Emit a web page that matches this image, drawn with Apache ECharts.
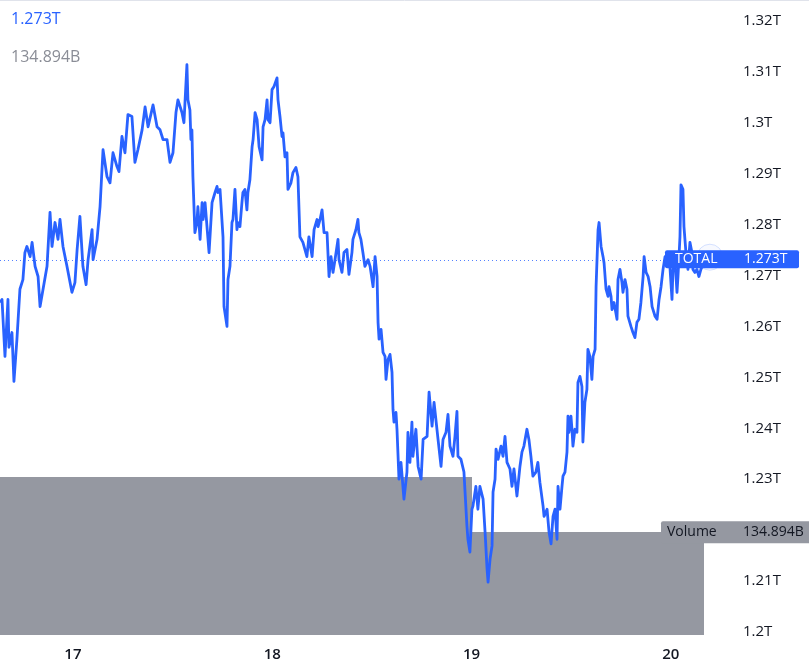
<!DOCTYPE html>
<html><head><meta charset="utf-8">
<script src="https://cdn.jsdelivr.net/npm/echarts@6/dist/echarts.min.js"></script>
<style>html,body{margin:0;padding:0;background:#fff}#c{width:809px;height:662px}</style>
</head><body><div id="c"></div>
<script>
// ---- data ----
const dayLabels = [17, 18, 19, 20];
const priceTicks = [1200, 1210, 1220, 1230, 1240, 1250, 1260, 1270, 1280, 1290, 1300, 1310, 1320]; // billions
const times = [
16.634,16.644,16.659,16.674,16.679,16.694,16.704,16.719,16.734,16.749,
16.759,16.769,16.785,16.795,16.810,16.825,16.835,16.850,16.870,16.885,
16.895,16.910,16.925,16.935,16.950,16.970,16.995,17.010,17.021,17.035,
17.050,17.066,17.076,17.096,17.101,17.121,17.136,17.151,17.171,17.186,
17.201,17.221,17.231,17.246,17.261,17.276,17.296,17.311,17.326,17.347,
17.362,17.377,17.402,17.422,17.437,17.452,17.472,17.487,17.502,17.517,
17.527,17.547,17.557,17.572,17.577,17.587,17.592,17.597,17.602,17.612,
17.622,17.627,17.638,17.648,17.653,17.663,17.673,17.683,17.698,17.713,
17.723,17.728,17.738,17.748,17.753,17.758,17.773,17.778,17.788,17.798,
17.803,17.813,17.823,17.828,17.838,17.848,17.853,17.863,17.873,17.878,
17.888,17.899,17.904,17.914,17.924,17.934,17.949,17.954,17.964,17.974,
17.979,17.989,17.999,18.009,18.024,18.029,18.039,18.049,18.054,18.064,
18.074,18.079,18.094,18.104,18.119,18.129,18.139,18.154,18.174,18.184,
18.200,18.210,18.225,18.230,18.240,18.250,18.260,18.275,18.285,18.295,
18.305,18.315,18.330,18.335,18.350,18.360,18.375,18.385,18.400,18.405,
18.420,18.430,18.435,18.445,18.455,18.465,18.481,18.491,18.506,18.516,
18.526,18.531,18.536,18.546,18.556,18.566,18.571,18.581,18.591,18.601,
18.606,18.611,18.621,18.626,18.636,18.646,18.651,18.661,18.676,18.681,
18.691,18.701,18.706,18.721,18.732,18.747,18.757,18.777,18.787,18.802,
18.812,18.822,18.832,18.847,18.857,18.872,18.882,18.892,18.907,18.917,
18.927,18.932,18.947,18.957,18.962,18.977,18.982,18.992,19.002,19.007,
19.022,19.032,19.042,19.058,19.068,19.078,19.083,19.093,19.103,19.108,
19.118,19.123,19.133,19.148,19.158,19.168,19.178,19.193,19.203,19.213,
19.228,19.243,19.253,19.263,19.278,19.288,19.298,19.308,19.323,19.333,
19.343,19.359,19.364,19.379,19.389,19.399,19.409,19.419,19.429,19.434,
19.444,19.454,19.459,19.469,19.479,19.484,19.489,19.499,19.504,19.509,
19.519,19.529,19.534,19.544,19.554,19.559,19.569,19.579,19.584,19.594,
19.604,19.610,19.620,19.625,19.635,19.640,19.650,19.660,19.665,19.675,
19.685,19.690,19.700,19.705,19.715,19.730,19.735,19.745,19.755,19.760,
19.770,19.780,19.785,19.800,19.810,19.820,19.830,19.840,19.850,19.861,
19.866,19.876,19.886,19.896,19.906,19.921,19.931,19.941,19.951,19.961,
19.971,19.981,19.991,20.006,20.011,20.021,20.031,20.036,20.046,20.051,
20.061,20.066,20.076,20.086,20.096,20.106,20.111,20.121,20.131,20.141,
20.151,20.171];
const totalB = [
1264.7,1265.3,1254.1,1265.3,1255.9,1258.8,1249.2,1257.5,1267.3,1269.2,
1274.5,1275.7,1273.7,1276.5,1271.8,1269.8,1263.9,1267.3,1271.8,1282.4,
1275.7,1280.4,1277.1,1281.0,1275.7,1271.8,1266.7,1268.6,1275.1,1281.6,
1271.8,1268.2,1273.1,1279.0,1273.1,1277.1,1283.5,1294.7,1289.4,1288.2,
1294.1,1291.4,1290.4,1297.3,1294.1,1301.6,1301.2,1292.2,1294.7,1298.6,
1303.1,1299.2,1303.5,1299.2,1298.6,1296.7,1296.7,1292.2,1294.1,1302.0,
1304.5,1302.0,1300.0,1311.4,1304.5,1302.5,1296.7,1298.6,1289.4,1278.4,
1280.4,1283.5,1277.1,1284.3,1281.0,1284.3,1284.3,1274.5,1284.3,1286.3,
1287.5,1286.3,1286.9,1286.9,1277.6,1263.9,1260.0,1269.2,1271.8,1280.4,
1281.0,1286.9,1279.0,1280.4,1279.6,1284.3,1286.3,1286.9,1282.9,1286.3,
1288.8,1295.3,1296.7,1302.0,1300.6,1295.3,1292.7,1299.2,1300.6,1304.5,
1300.6,1300.0,1306.5,1307.1,1308.8,1304.5,1301.2,1297.3,1298.0,1293.3,
1294.1,1286.9,1288.2,1290.2,1291.2,1289.4,1277.6,1276.5,1273.7,1277.6,
1273.7,1279.0,1281.0,1279.6,1281.0,1282.9,1278.4,1278.4,1269.8,1273.7,
1270.6,1273.1,1277.1,1273.1,1270.6,1274.5,1275.1,1270.2,1274.5,1277.1,
1279.0,1281.0,1278.4,1277.1,1274.5,1271.8,1273.1,1271.8,1267.8,1273.7,
1269.8,1260.8,1257.5,1259.4,1254.9,1254.1,1249.6,1253.5,1254.5,1251.0,
1243.7,1241.2,1243.1,1239.8,1230.0,1233.3,1233.3,1226.1,1231.4,1239.2,
1233.3,1241.2,1234.5,1239.8,1232.5,1230.0,1237.8,1238.4,1247.1,1240.4,
1245.1,1245.1,1237.8,1232.5,1237.8,1239.2,1242.7,1236.5,1234.5,1238.4,
1243.3,1234.5,1233.9,1233.9,1231.4,1220.8,1218.2,1215.7,1224.1,1224.7,
1228.6,1224.1,1228.6,1226.1,1219.6,1212.4,1209.8,1214.3,1216.9,1227.5,
1230.0,1235.9,1233.9,1236.5,1234.5,1238.4,1233.3,1232.0,1228.6,1232.0,
1226.7,1232.5,1235.3,1236.5,1239.8,1237.8,1234.5,1230.6,1231.4,1233.3,
1229.4,1224.7,1222.7,1224.1,1219.6,1217.3,1222.7,1224.1,1218.2,1228.6,
1224.1,1228.6,1230.6,1231.4,1235.3,1242.4,1239.2,1242.4,1239.8,1236.5,
1239.8,1239.2,1249.0,1250.2,1248.2,1237.3,1245.1,1247.6,1255.5,1254.1,
1249.6,1254.1,1255.5,1267.8,1279.0,1280.4,1275.7,1273.7,1272.5,1267.3,
1265.9,1267.8,1265.9,1263.3,1264.7,1261.4,1269.2,1271.2,1268.6,1266.7,
1269.2,1267.3,1262.0,1260.0,1258.8,1257.8,1260.8,1261.4,1264.7,1269.8,
1273.7,1270.6,1269.8,1267.8,1263.9,1262.0,1261.4,1265.3,1267.8,1271.2,
1273.7,1272.5,1274.5,1265.3,1271.2,1273.1,1266.7,1269.8,1277.6,1287.8,
1286.9,1279.6,1274.5,1271.2,1276.5,1274.5,1271.2,1270.6,1271.2,1269.8,
1271.2,1273.0];
const volStart = [16.0, 19.0];
const volEnd = [19.0, 20.166];
const volumeB = [207.0, 134.894];
const lastTotalLabel = '1.273T';
const lastVolumeLabel = '134.894B';
const seriesName = 'TOTAL';

// ---- chart ----
const FONT = '"Open Sans", sans-serif';
const BLUE = '#2962FF';
const GREY = '#9598a1';
const chart = echarts.init(document.getElementById('c'), null, {renderer: 'canvas'});
const fmtT = v => parseFloat((v / 1000).toFixed(3)) + 'T';

chart.setOption({
  animation: false,
  backgroundColor: '#ffffff',
  grid: {left: 0, right: 79, top: 0, bottom: 26, containLabel: false},
  xAxis: {
    type: 'value', min: 16.634, max: 20.297,
    axisLine: {show: false}, axisTick: {show: false}, splitLine: {show: false},
    axisLabel: {customValues: dayLabels, formatter: v => String(Math.round(v)),
      color: '#131722', fontFamily: FONT, fontSize: 15, fontWeight: 600, margin: 12}
  },
  yAxis: [{
    type: 'value', position: 'right', min: 1199.4, max: 1324.1,
    axisLine: {show: false}, axisTick: {show: false}, splitLine: {show: false},
    axisLabel: {customValues: priceTicks, formatter: fmtT, color: '#131722',
      fontFamily: FONT, fontSize: 15, margin: 13}
  }, {
    type: 'value', min: 0, max: 833, show: false
  }],
  series: [{
    type: 'custom', name: 'Volume', xAxisIndex: 0, yAxisIndex: 1, clip: true, z: 1,
    data: volStart.map((s, i) => [s, volEnd[i], volumeB[i]]),
    encode: {x: [0, 1], y: 2},
    renderItem: (params, api) => {
      const a = api.coord([api.value(0), api.value(2)]);
      const b = api.coord([api.value(1), 0]);
      const x0 = Math.round(a[0]), x1 = Math.round(b[0]);
      return {type: 'rect', shape: {x: x0, y: Math.round(a[1]), width: x1 - x0, height: Math.round(b[1]) - Math.round(a[1])},
        style: {fill: GREY}};
    }
  }, {
    type: 'line', name: seriesName, xAxisIndex: 0, yAxisIndex: 0, z: 3,
    data: times.map((t, i) => [t, totalB[i]]),
    showSymbol: false, symbol: 'none',
    lineStyle: {color: BLUE, width: 2.8, join: 'round'},
    markLine: {
      silent: true, symbol: 'none', animation: false,
      lineStyle: {color: BLUE, width: 1, type: [1, 3], opacity: 0.8},
      label: {show: false},
      data: [{yAxis: totalB[totalB.length - 1]}]
    }
  }]
});

const lastPt = chart.convertToPixel({xAxisIndex: 0, yAxisIndex: 0}, [times[times.length - 1], totalB[totalB.length - 1]]);
const volY = chart.convertToPixel({yAxisIndex: 1}, volumeB[volumeB.length - 1]);
const W = 809;
chart.setOption({
  graphic: [
    {type: 'line', shape: {x1: 0, y1: 0.5, x2: W, y2: 0.5}, style: {stroke: '#e0e3eb', lineWidth: 1}, z: 10},
    {type: 'text', left: 11, top: 11, z: 10, style: {text: lastTotalLabel, fill: BLUE, font: '16px ' + FONT}},
    {type: 'text', left: 11, top: 49, z: 10, style: {text: lastVolumeLabel, fill: '#8a8d96', font: '16px ' + FONT}},
    {type: 'circle', shape: {cx: lastPt[0] + 5, cy: lastPt[1] - 3, r: 13}, style: {fill: 'rgba(41,98,255,0.04)', stroke: 'rgba(41,98,255,0.18)', lineWidth: 1}, z: 11},
    {type: 'rect', shape: {x: 665, y: lastPt[1] - 10, width: 134, height: 18, r: 2}, style: {fill: BLUE}, z: 12},
    {type: 'text', x: 675, y: lastPt[1] - 1, z: 13, style: {text: seriesName, fill: '#ffffff', font: '14px ' + FONT, verticalAlign: 'middle'}},
    {type: 'text', x: 744, y: lastPt[1] - 1, z: 13, style: {text: lastTotalLabel, fill: '#ffffff', font: '14px ' + FONT, verticalAlign: 'middle'}},
    {type: 'rect', shape: {x: 661, y: volY - 11, width: 150, height: 22, r: 2}, style: {fill: GREY}, z: 12},
    {type: 'text', x: 667, y: volY, z: 13, style: {text: 'Volume', fill: '#131722', font: '14px ' + FONT, verticalAlign: 'middle'}},
    {type: 'text', x: 743, y: volY, z: 13, style: {text: lastVolumeLabel, fill: '#131722', font: '14px ' + FONT, verticalAlign: 'middle'}}
  ]
});
</script></body></html>
